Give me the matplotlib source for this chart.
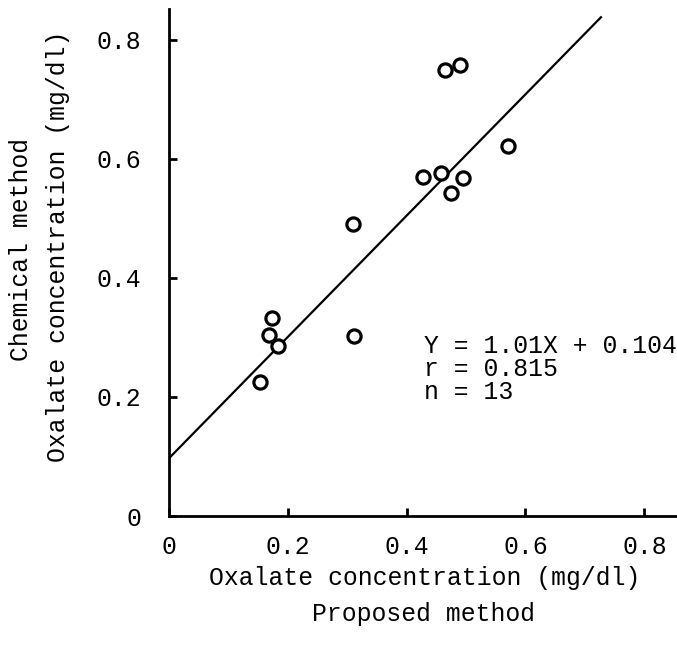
import matplotlib
matplotlib.use('Agg')
import matplotlib.pyplot as plt

# proposed method (x) vs chemical method (y), mg/dl
proposed = [0.154, 0.168, 0.173, 0.183, 0.310, 0.311, 0.428, 0.458, 0.475, 0.495, 0.464, 0.490, 0.571]
chemical = [0.225, 0.304, 0.333, 0.285, 0.491, 0.303, 0.569, 0.577, 0.543, 0.568, 0.750, 0.757, 0.621]

# regression line as drawn
line_x = [0.0, 0.727]
line_y = [0.097, 0.838]

ticks = [0, 0.2, 0.4, 0.6, 0.8]
tick_labels = ['0', '0.2', '0.4', '0.6', '0.8']
stats_text = 'Y = 1.01X + 0.104\nr = 0.815\nn = 13'

plt.rcParams['font.family'] = ['Liberation Mono', 'DejaVu Sans Mono']
fs = 17.8

fig = plt.figure(figsize=(6.77, 6.56), dpi=100)
ax = fig.add_axes([0.2496, 0.2134, 0.7504, 0.773])

ax.plot(line_x, line_y, color='black', lw=1.6)
ax.plot(proposed, chemical, 'o', mfc='white', mec='black', ms=9.5, mew=2.3)

ax.set_xlim(0, 0.855)
ax.set_ylim(0, 0.852)
ax.set_xticks(ticks)
ax.set_xticklabels(tick_labels)
ax.set_yticks(ticks)
ax.set_yticklabels(tick_labels)
ax.tick_params(direction='in', length=6, width=2, labelsize=fs)
ax.tick_params(axis='x', pad=14)
ax.tick_params(axis='y', pad=20)
for s in ['top', 'right']:
    ax.spines[s].set_visible(False)
for s in ['left', 'bottom']:
    ax.spines[s].set_linewidth(2)

ax.text(0.430, 0.247, stats_text, fontsize=fs, va='center', ha='left', linespacing=0.95)

fig.text(0.628, 0.119, 'Oxalate concentration (mg/dl)', fontsize=fs, ha='center', va='center')
fig.text(0.626, 0.064, 'Proposed method', fontsize=fs, ha='center', va='center')
fig.text(0.031, 0.620, 'Chemical method', fontsize=fs, ha='center', va='center', rotation=90)
fig.text(0.086, 0.625, 'Oxalate concentration (mg/dl)', fontsize=fs, ha='center', va='center', rotation=90)

fig.savefig('out.png', dpi=100)
